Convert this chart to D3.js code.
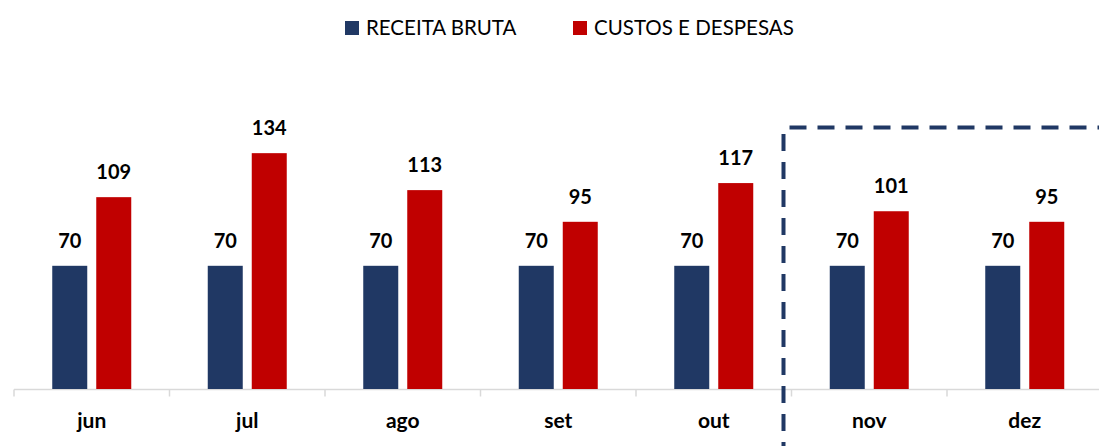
<!DOCTYPE html>
<html><head><meta charset="utf-8">
<script src="https://cdn.jsdelivr.net/npm/d3@7"></script>
<style>body{margin:0;background:#fff;} svg{display:block;font-family:Lato, "Open Sans", sans-serif;}</style>
</head><body>
<svg id="c" width="1099" height="446"></svg>
<script>
const categories = ["jun","jul","ago","set","out","nov","dez"];
const receita = [70,70,70,70,70,70,70];
const custos = [109,134,113,95,117,101,95];
const seriesNames = ["RECEITA BRUTA","CUSTOS E DESPESAS"];
const colors = ["#203864","#C00000"];

const svg = d3.select("#c");
const x0 = 14, x1 = 14 + 155.5*7;
const yBase = 389;
const x = d3.scaleBand().domain(categories).range([x0, x1]).paddingInner(0).paddingOuter(0);
const y = d3.scaleLinear().domain([0, 100]).range([yBase, yBase - 176]);

const barW = 35, gap = 9;
const sub = d3.scaleOrdinal().domain([0,1]).range([-(gap/2+barW), gap/2]);

// axis
const ag = svg.append("g").attr("transform",`translate(0,${yBase+0.5})`);
ag.append("line").attr("x1",x0).attr("x2",x1).attr("stroke","#d9d9d9").attr("stroke-width",1.5);
const tickPos = categories.map(c=>x(c)).concat([x1]);
ag.selectAll("line.t").data(tickPos).join("line").attr("class","t")
  .attr("x1",d=>d).attr("x2",d=>d).attr("y1",0).attr("y2",7)
  .attr("stroke","#d9d9d9").attr("stroke-width",1.5);
ag.selectAll("text.cat").data(categories).join("text").attr("class","cat")
  .attr("x",d=>x(d)+x.bandwidth()/2).attr("y",38.5)
  .attr("text-anchor","middle").attr("font-weight","bold").attr("font-size",21).attr("fill","#000")
  .text(d=>d);

const data = [receita, custos];
data.forEach((vals,si)=>{
  const g = svg.append("g");
  g.selectAll("rect").data(vals).join("rect")
    .attr("x",(d,i)=>x(categories[i])+x.bandwidth()/2+sub(si))
    .attr("y",d=>y(d)).attr("width",barW).attr("height",d=>yBase-y(d))
    .attr("fill",colors[si]);
  g.selectAll("text").data(vals).join("text")
    .attr("x",(d,i)=>x(categories[i])+x.bandwidth()/2+sub(si)+barW/2)
    .attr("y",d=>y(d)-18)
    .attr("text-anchor","middle").attr("font-weight","bold").attr("font-size",20).attr("fill","#000")
    .text(d=>d);
});

// dashed box around forecast months
const bx = x("nov") - 8;
svg.append("line").attr("x1",bx).attr("x2",bx).attr("y1",128).attr("y2",446)
  .attr("stroke","#203864").attr("stroke-width",4).attr("stroke-dasharray","17,11").attr("stroke-dashoffset",-6);
svg.append("line").attr("x1",bx+6).attr("x2",1099).attr("y1",127.5).attr("y2",127.5)
  .attr("stroke","#203864").attr("stroke-width",4).attr("stroke-dasharray","17,11");

// legend
const leg = svg.append("g");
const legItems = [{x:345,name:seriesNames[0],c:colors[0]},{x:573,name:seriesNames[1],c:colors[1]}];
legItems.forEach(it=>{
  leg.append("rect").attr("x",it.x).attr("y",21).attr("width",14).attr("height",14).attr("fill",it.c);
  leg.append("text").attr("x",it.x+21).attr("y",35).attr("font-size",20.5).attr("fill","#000").text(it.name);
});
</script>
</body></html>
